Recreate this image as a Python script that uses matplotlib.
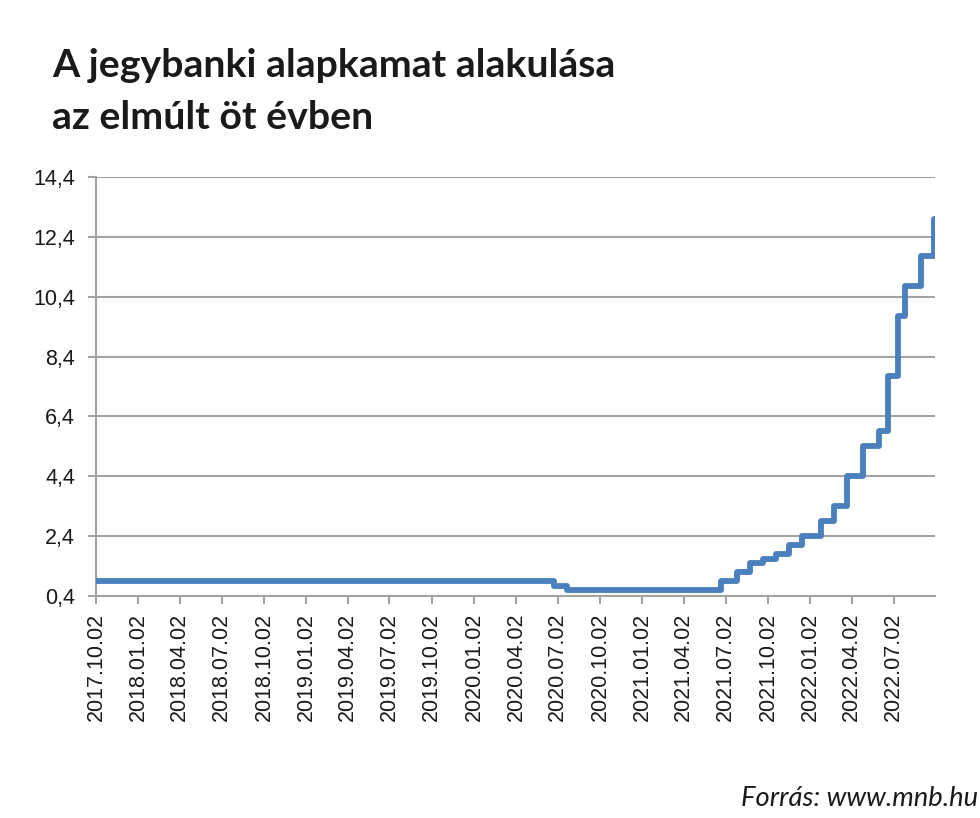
import datetime as dt
import matplotlib.pyplot as plt
import matplotlib.dates as mdates
from matplotlib.ticker import FixedLocator, FuncFormatter

# rate decisions (date of change, new base rate %)
change_dates = ['2017-10-02', '2020-06-23', '2020-07-22', '2021-06-22', '2021-07-27',
                '2021-08-24', '2021-09-21', '2021-10-19', '2021-11-16', '2021-12-14',
                '2022-01-25', '2022-02-22', '2022-03-22', '2022-04-26', '2022-05-31',
                '2022-06-21', '2022-07-12', '2022-07-26', '2022-08-30', '2022-09-27',
                '2022-09-30']
rates = [0.9, 0.75, 0.6, 0.9, 1.2, 1.5, 1.65, 1.8, 2.1, 2.4, 2.9, 3.4, 4.4, 5.4, 5.9,
         7.75, 9.75, 10.75, 11.75, 13.0, 13.0]

tick_dates = ['2017-10-02', '2018-01-02', '2018-04-02', '2018-07-02', '2018-10-02',
              '2019-01-02', '2019-04-02', '2019-07-02', '2019-10-02', '2020-01-02',
              '2020-04-02', '2020-07-02', '2020-10-02', '2021-01-02', '2021-04-02',
              '2021-07-02', '2021-10-02', '2022-01-02', '2022-04-02', '2022-07-02']
y_ticks = [0.4, 2.4, 4.4, 6.4, 8.4, 10.4, 12.4, 14.4]

to_date = lambda s: dt.datetime.strptime(s, '%Y-%m-%d')
x = [to_date(d) for d in change_dates]
xt = [mdates.date2num(to_date(d)) for d in tick_dates]

fig = plt.figure(figsize=(9.8, 8.18), dpi=100)
ax = fig.add_axes([0.098, 0.2714, 0.856, 0.5122])

grid_col = '#a3a3a3'
ax.plot(x, rates, drawstyle='steps-post', color='#4a80bd', lw=4.2,
        solid_joinstyle='round', solid_capstyle='round', zorder=3)

ax.set_xlim(to_date('2017-10-02'), to_date('2022-09-30'))
ax.set_ylim(0.4, 14.4)
ax.yaxis.set_major_locator(FixedLocator(y_ticks))
ax.yaxis.set_major_formatter(FuncFormatter(lambda v, p: f'{v:.1f}'.replace('.', ',')))
ax.xaxis.set_major_locator(FixedLocator(xt))
ax.xaxis.set_major_formatter(mdates.DateFormatter('%Y.%m.%d'))

ax.grid(axis='y', color=grid_col, lw=1.5)
ax.set_axisbelow(True)
for s in ['top', 'right']:
    ax.spines[s].set_visible(False)
for s in ['left', 'bottom']:
    ax.spines[s].set_color(grid_col)
    ax.spines[s].set_linewidth(1.5)

ax.tick_params(axis='both', colors=grid_col, labelcolor='#1a1a1a',
               labelsize=15.5, length=6, width=1.5)
ax.tick_params(axis='y', pad=9)
ax.tick_params(axis='x', pad=6, labelrotation=90)
for lab in ax.get_xticklabels() + ax.get_yticklabels():
    lab.set_fontfamily('Liberation Sans')

fig.text(0.053, 1 - 77 / 818, 'A jegybanki alapkamat alakulása', fontfamily='Lato',
         fontweight='bold', fontsize=28.3, color='#1a1a1a', va='baseline')
fig.text(0.053, 1 - 129 / 818, 'az elmúlt öt évben', fontfamily='Lato',
         fontweight='bold', fontsize=28.3, color='#1a1a1a', va='baseline')
fig.text(0.998, 1 - 806 / 818, 'Forrás: www.mnb.hu', fontfamily='Lato',
         style='italic', fontsize=19.7, color='#1a1a1a', ha='right', va='baseline')

fig.savefig('out.png', dpi=100)
